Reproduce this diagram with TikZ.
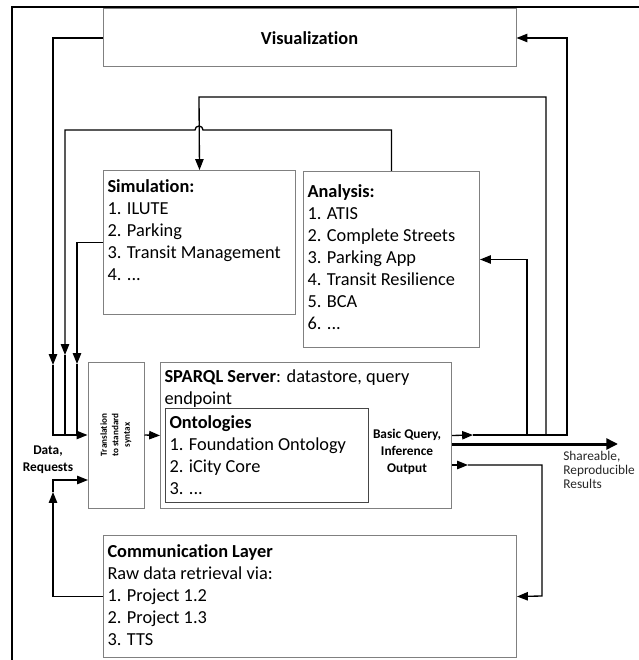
\documentclass[tikz,border=0pt]{standalone}
\usepackage{fontspec}
\setmainfont{Carlito}[Ligatures=NoCommon]
\usepackage{graphicx}
\usepackage{tikz}
\usetikzlibrary{positioning, arrows.meta}

\definecolor{boxgray}{RGB}{128,128,128}
\definecolor{ontogray}{RGB}{70,70,70}

\begin{document}
\begin{tikzpicture}[x=0.6pt, y=-0.6pt,
  box/.style={draw=boxgray, line width=0.6pt, inner sep=0pt},
  listbox/.style={draw=boxgray, line width=0.6pt, anchor=north west,
    inner xsep=2.4pt, font=\fontsize{11}{13.2}\selectfont},
  smalllabel/.style={inner sep=0pt, align=center,
    font=\bfseries\fontsize{8}{10.2}\selectfont},
  line/.style={line width=0.8pt},
  conn/.style={line width=0.8pt, -{Triangle[length=6.5pt,width=5pt]}},
  bigconn/.style={line width=1.8pt, -{Triangle[length=7pt,width=6.5pt]}}]
\useasboundingbox (0,0) rectangle (638,660);

% Frame
\draw[line width=1.3pt] (12,665) -- (12,7) -- (645,7);

% Visualization
\node[box, minimum width=247.8pt, minimum height=34.8pt,
  font=\bfseries\fontsize{11}{13.2}\selectfont] (vis) at (309.5,38) {Visualization};

% Simulation and Analysis
\node[listbox, inner ysep=4pt] (sim) at (103,170)
  {\parbox[t][78.4pt][t]{110.4pt}{\strut\textbf{Simulation:}\\1. ILUTE\\2. Parking\\3. Transit Management\\4. ...}};
\node[listbox, inner ysep=6.4pt] (ana) at (303,171)
  {\parbox[t][92.8pt][t]{100.8pt}{\strut\textbf{Analysis:}\\1. ATIS\\2. Complete Streets\\3. Parking App\\4. Transit Resilience\\5. BCA\\6. ...}};

% Translation and SPARQL server
\node[box, minimum width=33.6pt, minimum height=87.6pt,
  font=\bfseries\fontsize{5.5}{6.9}\selectfont] (trans) at (116,435)
  {\rotatebox{90}{\begin{tabular}{@{}c@{}}Translation\\to standard\\syntax\end{tabular}}};
\node[listbox, inner ysep=2.8pt] (sparql) at (160,362)
  {\parbox[t][82pt][t]{169.8pt}{\strut\textbf{SPARQL Server}: datastore, query\\endpoint}};
\node[listbox, draw=ontogray, inner ysep=2.5pt] (onto) at (165,408)
  {\parbox[t][51.4pt][t]{117pt}{\strut\textbf{Ontologies}\\1. Foundation Ontology\\2. iCity Core\\3. ...}};
\node[smalllabel] (bq) at (407,452) {Basic Query,\\Inference\\Output};
\node[smalllabel] (data) at (48,460) {Data,\\Requests};

% Communication Layer
\node[listbox, inner ysep=4pt] (comm) at (103,535)
  {\parbox[t][65.2pt][t]{243pt}{\strut\textbf{Communication Layer}\\Raw data retrieval via:\\1. Project 1.2\\2. Project 1.3\\3. TTS}};

% Results
\node[anchor=north west, align=left, inner sep=0pt, text=black!85,
  font=\fontsize{8}{8.4}\selectfont] (res) at (563,451) {Shareable,\\Reproducible\\Results};

% Inputs to translation
\coordinate (a1) at (53,365);
\coordinate (j1) at (53,435);
\coordinate (b1) at (65,355);
\coordinate (j2) at (65,435);
\coordinate (c1) at (77,364);
\coordinate (j3) at (77,435);
\coordinate (d1) at (53,492);
\coordinate (tin) at (88,480);
\draw[conn] (vis.west) -| (a1);
\draw[conn] (a1) -- (j1) -- (trans.west);
\draw[conn] (ana.north) |- (203,130) arc (0:-180:4) -- (65,130) -- (b1);
\draw[line] (b1) -- (j2);
\draw[conn] (sim.west) -| (c1);
\draw[line] (c1) -- (j3);
\draw[conn] (comm.west) -| (d1);
\draw[conn] (d1) |- (tin);
\draw[conn] (trans.east) -- (sparql.west);

% Outputs of the server
\coordinate (e1) at (473,435);
\coordinate (e2) at (527,435);
\coordinate (e3) at (546,435);
\coordinate (e4) at (567,435);
\coordinate (s1) at (199,97);
\draw[conn] (sparql.east) -- (e1);
\draw[conn] (e1) -- (e4) |- (vis.east);
\draw[conn] (e2) |- (ana.east);
\draw[conn] (e3) |- (s1) -- (sim.north);
\coordinate (r1) at (618,444);
\draw[bigconn] (sparql.east |- r1) -- (r1);
\coordinate (g1) at (468,465);
\coordinate (g2) at (542,596);
\draw[conn] (sparql.east |- g1) -- (g1);
\draw[conn] (g1) -| (g2) -- (comm.east);
\end{tikzpicture}
\end{document}
